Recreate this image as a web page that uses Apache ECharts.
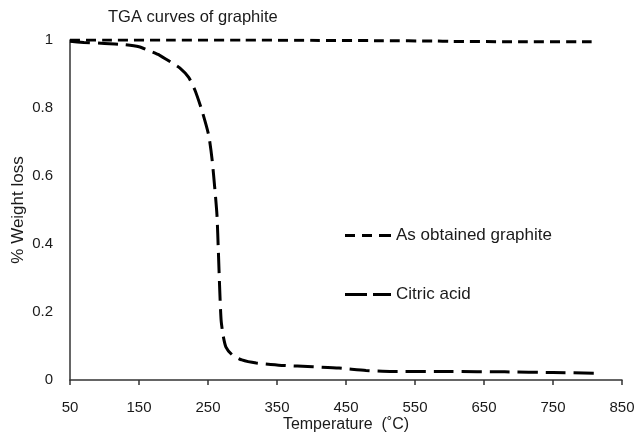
<!DOCTYPE html>
<html>
<head>
<meta charset="utf-8">
<title>TGA curves of graphite</title>
<script src="https://cdn.jsdelivr.net/npm/echarts@6/dist/echarts.min.js"></script>
<style>
  html, body { margin: 0; padding: 0; background: #fff; }
  #main { width: 637px; height: 435px; }
</style>
</head>
<body>
<div id="main"></div>
<script>
// 温度 (°C) / 失重 数据，从图上读出来的
var graphiteTemp = [50, 100, 200, 300, 400, 500, 580, 600, 700, 806];
var graphiteWeight = [1.0, 1.0, 1.0, 1.0, 0.999, 0.998, 0.997, 0.996, 0.995, 0.995];

var citricTemp = [50, 70, 100, 130, 150, 165, 180, 196, 209, 222, 231, 241, 251, 256, 260, 263, 265, 267, 269, 272, 276, 285, 299, 320, 357, 402, 440, 479, 517, 600, 680, 750, 812];
var citricWeight = [0.996, 0.993, 0.99, 0.986, 0.98, 0.968, 0.955, 0.935, 0.918, 0.89, 0.853, 0.794, 0.72, 0.647, 0.56, 0.485, 0.38, 0.265, 0.176, 0.13, 0.097, 0.074, 0.059, 0.05, 0.043, 0.039, 0.035, 0.028, 0.025, 0.025, 0.024, 0.022, 0.02];

var xTicks = [50, 150, 250, 350, 450, 550, 650, 750, 850];
var yTicks = [0, 0.2, 0.4, 0.6, 0.8, 1];

var seriesNames = ['As obtained graphite', 'Citric acid'];

function pairs(xs, ys) {
  return xs.map(function (x, i) { return [x, ys[i]]; });
}

var font = 'Liberation Sans, Arial, sans-serif';
var ink = '#1a1a1a';

// 图例的虚线小图标（短虚线 / 长虚线）
var legendIcons = [
  'path://M0,0h10v3h-10zM17,0h10v3h-10zM34,0h12v3h-12z',
  'path://M0,0h22v3h-22zM28,0h18v3h-18z'
];

var chart = echarts.init(document.getElementById('main'));
chart.setOption({
  animation: false,
  backgroundColor: '#fff',
  title: {
    text: 'TGA curves of graphite',
    left: 103,
    top: 4,
    textStyle: { fontFamily: font, fontSize: 16.5, fontWeight: 'normal', color: ink }
  },
  legend: {
    orient: 'vertical',
    left: 340,
    top: 222,
    itemWidth: 46,
    itemHeight: 3,
    itemGap: 42,
    data: seriesNames.map(function (n, i) {
      return { name: n, icon: legendIcons[i] };
    }),
    itemStyle: { color: '#000' },
    textStyle: { fontFamily: font, fontSize: 17, color: ink }
  },
  grid: {
    left: 70,
    right: 15,
    top: 40,
    bottom: 55,
    outerBoundsMode: 'none' // v6 默认会把标签挤进容器，这里关掉
  },
  xAxis: {
    type: 'value',
    min: xTicks[0],
    max: xTicks[xTicks.length - 1],
    interval: 100, // min=50，从50开始数
    name: 'Temperature  (\u02daC)',
    nameLocation: 'middle',
    nameGap: 37,
    nameMoveOverlap: false,
    nameTextStyle: { fontFamily: font, fontSize: 16, color: ink },
    axisLine: { lineStyle: { color: '#333', width: 1.5 } },
    axisTick: { show: true, length: 5, lineStyle: { color: '#333', width: 1.5 } },
    axisLabel: { fontFamily: font, fontSize: 15, color: ink, margin: 20 },
    splitLine: { show: false }
  },
  yAxis: {
    type: 'value',
    min: yTicks[0],
    max: yTicks[yTicks.length - 1],
    interval: 0.2,
    name: '% Weight loss',
    nameLocation: 'middle',
    nameGap: 43,
    nameMoveOverlap: false,
    nameTextStyle: { fontFamily: font, fontSize: 17, color: ink },
    axisLine: { show: true, lineStyle: { color: '#333', width: 1.5 } },
    axisTick: { show: false },
    axisLabel: { fontFamily: font, fontSize: 15, color: ink, margin: 17 },
    splitLine: { show: false }
  },
  series: [
    {
      name: seriesNames[0],
      type: 'line',
      symbol: 'none',
      smooth: 0.2,
      data: pairs(graphiteTemp, graphiteWeight),
      itemStyle: { color: '#000' },
      lineStyle: { color: '#000', width: 3, type: [10, 6] }
    },
    {
      name: seriesNames[1],
      type: 'line',
      symbol: 'none',
      smooth: 0.2,
      data: pairs(citricTemp, citricWeight),
      itemStyle: { color: '#000' },
      lineStyle: { color: '#000', width: 3, type: [20, 8] }
    }
  ]
});
</script>
</body>
</html>
